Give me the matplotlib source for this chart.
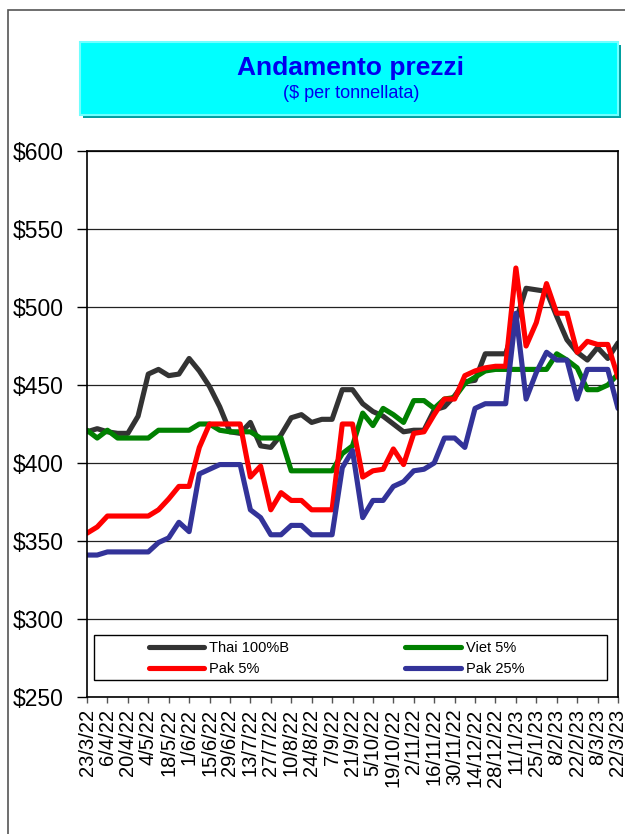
import matplotlib
matplotlib.use("Agg")
import matplotlib.pyplot as plt
from matplotlib.patches import Rectangle

plt.rcParams['font.family'] = ['Liberation Sans', 'DejaVu Sans']

# weekly prices, 23/3/22 .. 22/3/23 ($ per tonne)
thai_100b = [420, 422, 420, 419, 419, 430, 457, 460, 456, 457,
             467, 459, 449, 436, 420, 419, 426, 411, 410, 418,
             429, 431, 426, 428, 428, 447, 447, 438, 433, 430,
             425, 420, 421, 421, 434, 436, 443, 452, 453, 470,
             470, 470, 491, 512, 511, 510, 494, 479, 471, 466,
             474, 467, 477]
viet_5 = [421, 416, 421, 416, 416, 416, 416, 421, 421, 421,
          421, 425, 425, 421, 420, 420, 420, 416, 416, 416,
          395, 395, 395, 395, 395, 406, 411, 432, 424, 435,
          431, 426, 440, 440, 435, 441, 442, 451, 455, 459,
          460, 460, 460, 460, 460, 460, 470, 466, 461, 447,
          447, 450, 457]
pak_5 = [355, 359, 366, 366, 366, 366, 366, 370, 377, 385,
         385, 410, 425, 425, 425, 425, 391, 398, 370, 381,
         376, 376, 370, 370, 370, 425, 425, 391, 395, 396,
         409, 399, 419, 420, 431, 441, 441, 456, 459, 461,
         462, 462, 525, 475, 490, 515, 496, 496, 471, 478,
         476, 476, 455]
pak_25 = [341, 341, 343, 343, 343, 343, 343, 349, 352, 362,
          356, 393, 396, 399, 399, 399, 370, 365, 354, 354,
          360, 360, 354, 354, 354, 397, 408, 365, 376, 376,
          385, 388, 395, 396, 400, 416, 416, 410, 435, 438,
          438, 438, 496, 441, 458, 471, 466, 466, 441, 460,
          460, 460, 435]

date_labels = ["23/3/22", "6/4/22", "20/4/22", "4/5/22", "18/5/22", "1/6/22",
               "15/6/22", "29/6/22", "13/7/22", "27/7/22", "10/8/22", "24/8/22",
               "7/9/22", "21/9/22", "5/10/22", "19/10/22", "2/11/22", "16/11/22",
               "30/11/22", "14/12/22", "28/12/22", "11/1/23", "25/1/23", "8/2/23",
               "22/2/23", "8/3/23", "22/3/23"]

series_names = ["Thai 100%B", "Viet 5%", "Pak 5%", "Pak 25%"]
series_colors = ["#333333", "#008000", "#FF0000", "#333399"]

W, H = 625, 834
fig = plt.figure(figsize=(W / 100, H / 100), dpi=100)


def fig_rect(x0, y0, x1, y1, **kw):
    # pixel box (top-left origin) -> figure fraction rectangle
    return Rectangle((x0 / W, 1 - y1 / H), (x1 - x0) / W, (y1 - y0) / H,
                     transform=fig.transFigure, **kw)


# outer frame (cut off on the right and bottom)
fig.add_artist(fig_rect(7.5, 10, 700, 900, fill=False, ec="#555555", lw=1.2))

# title box with shadow
fig.add_artist(fig_rect(83, 45, 621, 118, fc="#00A0A0", ec="none"))
fig.add_artist(fig_rect(80, 42, 618, 115, fc="#00FFFF", ec="#70FFFF", lw=1.5))
fig.text(350 / W, 1 - 68 / H, "Andamento prezzi", ha="center", va="center",
         fontsize=19, fontweight="bold", color="#0000EE")
fig.text(351 / W, 1 - 94 / H, "($ per tonnellata)", ha="center", va="center",
         fontsize=13, color="#0000EE")

ax = fig.add_axes([87 / W, 1 - 697 / H, 531 / W, 546 / H])
x = list(range(len(thai_100b)))
handles = []
for vals, name, col in zip([thai_100b, viet_5, pak_5, pak_25], series_names, series_colors):
    h, = ax.plot(x, vals, color=col, lw=3.7, label=name, solid_capstyle="round")
    handles.append(h)

ax.set_xlim(0, len(x) - 1)
ax.set_ylim(250, 600)
ax.set_yticks(range(250, 601, 50))
ax.set_yticklabels(["$%d" % v for v in range(250, 601, 50)])
ax.set_xticks(range(0, len(x), 2))
ax.set_xticklabels(date_labels, rotation=90)
ax.yaxis.grid(True, color="#222222", lw=0.9)
ax.set_axisbelow(True)
for s in ax.spines.values():
    s.set_linewidth(1.2)
    s.set_color("black")
ax.tick_params(axis="y", length=7, width=1, pad=10, labelsize=16.5)
ax.tick_params(axis="x", length=4.5, width=1, color="#555555", pad=4, labelsize=14.5)

# legend box + entries
ax.add_patch(Rectangle((7 / 531, 0.031), 513 / 531, 0.0825, transform=ax.transAxes,
                       fc="white", ec="black", lw=1, zorder=3))
leg = ax.legend([handles[0], handles[2], handles[1], handles[3]],
                [series_names[0], series_names[2], series_names[1], series_names[3]],
                ncol=2, loc="center left", bbox_to_anchor=(62 / 531, 0.07),
                frameon=False, fontsize=10.5, handlelength=3.8, handletextpad=0.34,
                columnspacing=7.95, labelspacing=0.5, borderpad=0, borderaxespad=0)
leg.set_zorder(5)

fig.savefig("out.png", dpi=100)
